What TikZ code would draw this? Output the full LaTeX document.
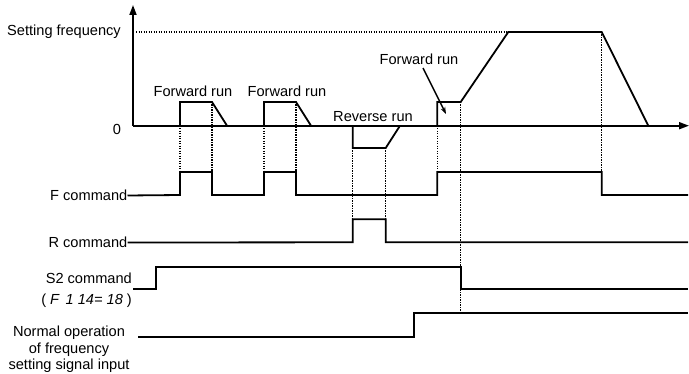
\documentclass[tikz,border=0pt]{standalone}
\usepackage{fontspec}
\setmainfont{Liberation Sans}
\usetikzlibrary{arrows.meta}
\begin{document}
\begin{tikzpicture}[x=1pt,y=-1pt,
  sig/.style={line width=1.8pt, line join=miter},
  guide/.style={line width=1.4pt, dash pattern=on 1.3pt off 1.2pt},
  lbl/.style={font=\fontsize{14.6}{16.7}\selectfont, inner sep=0pt},
  axistip/.style={-{Triangle[length=10pt,width=7pt]}}]
\useasboundingbox (0,0) rectangle (689,374);

% axes
\coordinate (o) at (133,125.7);
\coordinate (ytop) at (133,5);
\coordinate (xend) at (689,125.7);
\draw[sig,axistip] (o) -- (ytop);
\draw[sig,axistip] (o) -- (xend);

% setting frequency level
\draw[guide] (136,32) -- (508,32);

% frequency curve
\draw[sig] (180,125.7) -- (180,102) -- (212,102) -- (227,125.7);
\draw[sig] (264,125.7) -- (264,102) -- (296,102) -- (311,125.7);
\draw[sig] (352.7,125.7) -- (352.7,148) -- (385.7,148) -- (400,125.7);
\draw[sig] (437.3,125.7) -- (437.3,102) -- (460.7,102) -- (508.3,32) -- (601.7,32) -- (648.3,125.7);

% labels
\node[lbl,anchor=east] (sf) at (121,31.5) {Setting frequency};
\node[lbl] (zero) at (117,129.5) {0};
\node[lbl] (fr1) at (193,91.5) {Forward run};
\node[lbl] (fr2) at (287,91.5) {Forward run};
\node[lbl] (rr) at (373,116.5) {Reverse run};
\node[lbl] (fr3) at (419,59.5) {Forward run};
\coordinate (fr3tip) at (446,114);
\draw[line width=1.4pt,-{Stealth[length=7pt,width=5pt]}] (fr3.south) ++(4,3) -- (fr3tip);

% guides
\draw[guide] (180,125.7) -- (180,172);
\draw[guide] (212,102) -- (212,172);
\draw[guide] (264,125.7) -- (264,172);
\draw[guide] (296,102) -- (296,172);
\draw[guide] (352.7,148) -- (352.7,219.3);
\draw[guide] (385.7,148) -- (385.7,219.3);
\draw[guide] (437.3,125.7) -- (437.3,172);
\draw[guide] (460.7,102) -- (460.7,313.3);
\draw[guide] (601.7,32) -- (601.7,172);

% command signals
\node[lbl,anchor=east] (fc) at (127.5,195.5) {F command};
\node[lbl,anchor=east] (rc) at (127.5,242.5) {R command};
\node[lbl,anchor=east] (s2) at (132,278.5) {S2 command};
\node[lbl,anchor=east] (f114) at (132,300.5) {( \textit{F\, 1 14= 18} )};
\node[lbl,align=center] (nop) at (69,349.5) {Normal operation\\of frequency\\setting signal input};

\draw[sig] (fc.east) -- (180,195) -- (180,172) -- (212,172) -- (212,195) -- (264,195) -- (264,172) -- (296,172) -- (296,195) -- (437.3,195) -- (437.3,172) -- (601.7,172) -- (601.7,195) -- (688,195);
\draw[sig] (rc.east) -- (352.7,242.3) -- (352.7,219.3) -- (385.7,219.3) -- (385.7,242.3) -- (688,242.3);
\draw[sig] (133,289.3) -- (156,289.3) -- (156,267.3) -- (460.7,267.3) -- (460.7,289.3) -- (688,289.3);
\draw[sig] (138,336.7) -- (414,336.7) -- (414,313.3) -- (688,313.3);
\end{tikzpicture}
\end{document}
